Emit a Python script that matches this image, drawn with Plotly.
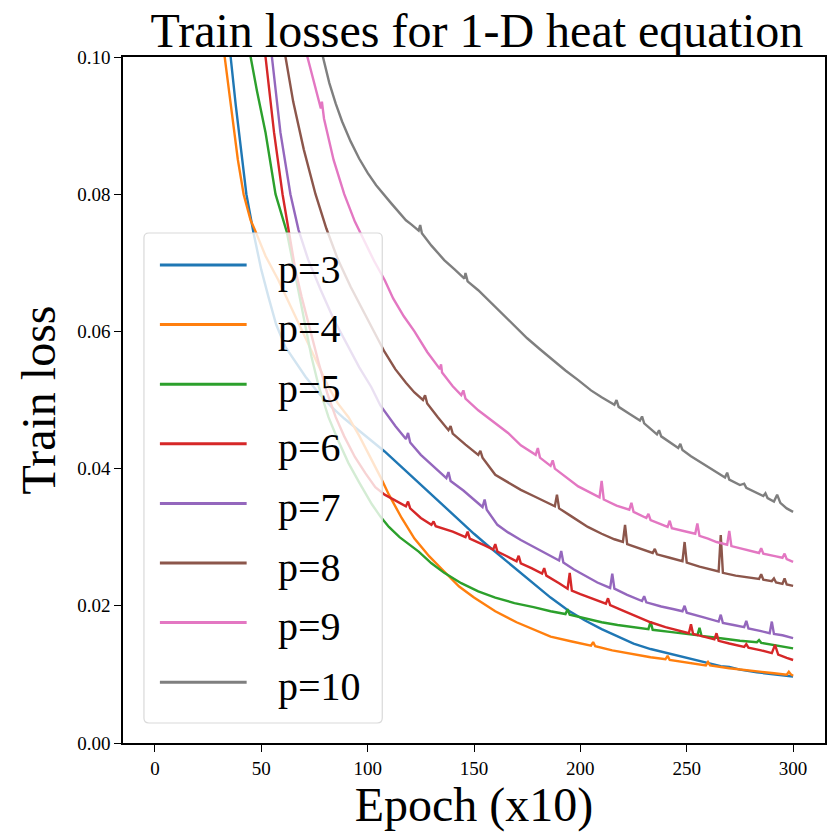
import plotly.graph_objects as go

names = ["p=3", "p=4", "p=5", "p=6", "p=7", "p=8", "p=9", "p=10"]
colors = ["#1f77b4", "#ff7f0e", "#2ca02c", "#d62728", "#9467bd", "#8c564b", "#e377c2", "#7f7f7f"]

x_p3 = [0, 30, 33, 35.6, 38, 41, 43, 46.4, 50, 53.4, 57, 61.4, 66, 70.8, 77, 83, 89, 95.6, 101, 108, 115, 122, 130, 137, 142.5, 150, 156, 163, 170, 178, 186, 194, 202, 210, 217.5, 225, 233, 242, 250, 258, 266, 270, 275, 283, 291, 300]
y_p3 = [0.5, 0.125, 0.111, 0.100, 0.093, 0.085, 0.080, 0.0743, 0.069, 0.065, 0.061, 0.0577, 0.0555, 0.0534, 0.051, 0.049, 0.0473, 0.0456, 0.0442, 0.0425, 0.0405, 0.0385, 0.0362, 0.0341, 0.0325, 0.0305, 0.0289, 0.0271, 0.0253, 0.0233, 0.0212, 0.0194, 0.0179, 0.0166, 0.0155, 0.0145, 0.0137, 0.0130, 0.0124, 0.0118, 0.0112, 0.0111, 0.0107, 0.0103, 0.0100, 0.0097]

x_p4 = [0, 29, 32.8, 36, 39, 41.7, 45, 47, 52, 58, 64, 70.8, 76, 81.6, 86, 91, 96, 101.7, 106, 110, 116, 122, 129, 136, 143, 150, 160, 170, 178, 186, 196, 205, 206, 207, 215, 225, 233, 240, 241, 242, 250, 259, 260, 261, 270, 280, 290, 297, 298, 299, 300]
y_p4 = [0.5, 0.118, 0.100, 0.092, 0.085, 0.080, 0.0762, 0.0748, 0.071, 0.0675, 0.0635, 0.0592, 0.0555, 0.0519, 0.0495, 0.0475, 0.0448, 0.0415, 0.0388, 0.0362, 0.0328, 0.0298, 0.0272, 0.0250, 0.0228, 0.0212, 0.0192, 0.0176, 0.0165, 0.0155, 0.0148, 0.0142, 0.0147, 0.0141, 0.0135, 0.0129, 0.0125, 0.0122, 0.0127, 0.0121, 0.0117, 0.0113, 0.0118, 0.0113, 0.0109, 0.0105, 0.0102, 0.00995, 0.0104, 0.0100, 0.0098]

x_p5 = [0, 42, 45, 48, 52, 56.7, 62, 67, 73.6, 77, 81.6, 86, 91, 96, 102, 106, 110, 115, 124, 130, 136, 144, 152, 160, 169, 178, 186, 193, 194, 195, 202, 210, 217.5, 225, 232, 233, 234, 242, 250, 255, 256, 257, 265, 275, 283, 284, 285, 292, 300]
y_p5 = [0.5, 0.112, 0.100, 0.095, 0.089, 0.080, 0.0745, 0.0665, 0.0563, 0.052, 0.0475, 0.0442, 0.0408, 0.038, 0.0348, 0.033, 0.0315, 0.0300, 0.0279, 0.0262, 0.0248, 0.0233, 0.0221, 0.0212, 0.0204, 0.0198, 0.0192, 0.0188, 0.0195, 0.0187, 0.0182, 0.0176, 0.0172, 0.0169, 0.0166, 0.0177, 0.0165, 0.0162, 0.0159, 0.0157, 0.0168, 0.0156, 0.0153, 0.0149, 0.0147, 0.0150, 0.0146, 0.0142, 0.0138]

x_p6 = [0, 49, 52, 56, 60, 62.8, 66, 69, 73, 77, 81, 85, 89, 94, 99, 103.6, 108, 112, 118, 119, 120, 125, 130, 131, 132, 140, 146, 147, 148, 155, 159, 160, 161, 165, 170, 171, 172, 177, 182, 183, 184, 190, 194, 195, 196, 200, 207, 212, 213, 214, 220, 227, 233, 240, 246, 251, 252, 253, 258, 263, 264, 265, 270, 277, 278, 279, 285, 290, 291.5, 293, 297, 300]
y_p6 = [0.5, 0.112, 0.100, 0.089, 0.080, 0.0748, 0.069, 0.065, 0.060, 0.0554, 0.051, 0.0475, 0.0447, 0.0417, 0.0393, 0.0373, 0.0362, 0.0355, 0.0345, 0.0352, 0.0342, 0.0328, 0.0318, 0.0323, 0.0316, 0.0308, 0.0300, 0.0308, 0.0298, 0.0288, 0.0282, 0.0290, 0.0279, 0.0273, 0.0265, 0.0273, 0.0262, 0.0255, 0.0247, 0.0255, 0.0244, 0.0233, 0.0225, 0.0248, 0.0222, 0.0217, 0.0209, 0.0203, 0.0211, 0.0201, 0.0193, 0.0184, 0.0176, 0.0169, 0.0164, 0.0160, 0.0173, 0.0159, 0.0155, 0.0151, 0.0160, 0.0149, 0.0145, 0.0140, 0.0144, 0.0139, 0.0135, 0.0131, 0.0143, 0.0129, 0.0124, 0.0121]

x_p7 = [0, 52, 55, 59, 63.7, 67.5, 72, 78, 84, 91, 96, 101.7, 106, 113, 118, 119, 120, 125, 131, 137, 138, 139, 145, 150, 154, 155, 156, 161, 166, 172, 178.6, 185, 190, 191, 192, 197, 202.5, 208, 214, 215, 216, 222, 229, 230, 231, 238, 244, 248, 249, 250, 258, 265, 266, 267, 272, 277, 278, 279, 285, 289, 290, 291, 295, 300]
y_p7 = [0.5, 0.112, 0.100, 0.089, 0.080, 0.0748, 0.0705, 0.066, 0.0618, 0.0577, 0.0548, 0.0519, 0.0492, 0.0462, 0.0443, 0.0452, 0.0438, 0.0420, 0.0403, 0.0386, 0.0395, 0.0382, 0.0368, 0.0355, 0.0344, 0.0355, 0.0340, 0.0318, 0.0307, 0.0296, 0.0285, 0.0274, 0.0266, 0.0280, 0.0263, 0.0253, 0.0243, 0.0234, 0.0226, 0.0247, 0.0225, 0.0216, 0.0207, 0.0214, 0.0205, 0.0199, 0.0195, 0.0192, 0.0200, 0.0190, 0.0183, 0.0177, 0.0187, 0.0175, 0.0172, 0.0169, 0.0178, 0.0167, 0.0163, 0.0160, 0.0177, 0.0159, 0.0157, 0.0153]

x_p8 = [0, 58, 61.4, 65, 70, 75.5, 80.6, 86, 92, 97, 101.7, 105, 108, 113, 118, 122, 126, 127, 128, 133, 138, 139, 140, 146, 152, 153, 154, 160, 166, 172, 178, 184, 188, 189, 190, 196, 203.5, 210, 216, 220, 221, 222, 228, 234, 235, 236, 242, 248, 249, 250, 256, 262, 265, 266, 267, 273, 279, 284, 285, 286, 290, 291, 292, 295, 296, 297, 300]
y_p8 = [0.5, 0.112, 0.100, 0.0935, 0.0865, 0.0800, 0.0750, 0.0705, 0.0665, 0.0635, 0.0608, 0.0588, 0.0570, 0.0545, 0.0525, 0.0511, 0.0500, 0.0507, 0.0495, 0.0475, 0.0456, 0.0462, 0.0451, 0.0435, 0.0420, 0.0426, 0.0416, 0.0391, 0.0380, 0.0369, 0.0360, 0.0351, 0.0345, 0.0362, 0.0342, 0.0330, 0.0315, 0.0305, 0.0297, 0.0293, 0.0318, 0.0290, 0.0283, 0.0277, 0.0283, 0.0275, 0.0270, 0.0265, 0.0293, 0.0263, 0.0257, 0.0252, 0.0250, 0.0303, 0.0248, 0.0244, 0.0241, 0.0239, 0.0246, 0.0238, 0.0236, 0.0240, 0.0234, 0.0232, 0.0240, 0.0231, 0.0229]

x_p9 = [0, 68, 71.7, 75, 78, 78.5, 79.5, 84, 89, 94, 99, 103, 108, 112, 117, 122, 128, 134, 134.5, 135, 140, 144, 145, 146, 152, 160, 166, 172, 179, 180, 181, 186, 187, 188, 193, 199, 204, 209, 210, 211, 217, 223, 224, 225, 231, 232, 233, 238, 241, 242, 243, 250, 254, 255, 256, 260, 264, 269, 270, 271, 278, 284, 285, 286, 292, 295, 296, 297, 300]
y_p9 = [0.5, 0.113, 0.100, 0.096, 0.0925, 0.0935, 0.091, 0.085, 0.080, 0.076, 0.0728, 0.0703, 0.0675, 0.0648, 0.0622, 0.0600, 0.0570, 0.0545, 0.0552, 0.0540, 0.0520, 0.0507, 0.0514, 0.0502, 0.0485, 0.0466, 0.0452, 0.0434, 0.0420, 0.0430, 0.0416, 0.0404, 0.0412, 0.0400, 0.0388, 0.0374, 0.0366, 0.0358, 0.0382, 0.0355, 0.0346, 0.0340, 0.0350, 0.0337, 0.0328, 0.0334, 0.0325, 0.0319, 0.0315, 0.0324, 0.0313, 0.0308, 0.0305, 0.0320, 0.0302, 0.0298, 0.0293, 0.0289, 0.0309, 0.0287, 0.0281, 0.0277, 0.0284, 0.0276, 0.0272, 0.0270, 0.0276, 0.0268, 0.0264]

x_p10 = [0, 75, 79, 82, 85, 88, 92, 96, 100, 104, 111, 118, 120.5, 124, 124.7, 125.5, 130, 136, 141, 145.5, 146, 147, 152, 156.6, 163, 169, 175, 181, 187, 193, 199, 205, 210, 216, 217, 218, 223, 228, 229, 230, 236, 237, 238, 243, 246, 247, 248, 252, 256, 262, 268, 269, 270, 275, 277, 278, 283, 286, 287, 288, 291, 292.5, 294, 297, 300]
y_p10 = [0.5, 0.113, 0.100, 0.0962, 0.0932, 0.0906, 0.0877, 0.0852, 0.0831, 0.0813, 0.0787, 0.0762, 0.0756, 0.0747, 0.0755, 0.0743, 0.0725, 0.0704, 0.0690, 0.0677, 0.0685, 0.0673, 0.0660, 0.0646, 0.0626, 0.0608, 0.0590, 0.0574, 0.0558, 0.0543, 0.0529, 0.0514, 0.0504, 0.0493, 0.0500, 0.0490, 0.0480, 0.0470, 0.0476, 0.0466, 0.0450, 0.0456, 0.0447, 0.0436, 0.0430, 0.0436, 0.0427, 0.0418, 0.0410, 0.0399, 0.0387, 0.0394, 0.0384, 0.0376, 0.0378, 0.0372, 0.0364, 0.0360, 0.0364, 0.0357, 0.0352, 0.0362, 0.0350, 0.0342, 0.0337]

xs = [x_p3, x_p4, x_p5, x_p6, x_p7, x_p8, x_p9, x_p10]
ys = [y_p3, y_p4, y_p5, y_p6, y_p7, y_p8, y_p9, y_p10]

x_ticks = [0, 50, 100, 150, 200, 250, 300]
y_ticks = [0.00, 0.02, 0.04, 0.06, 0.08, 0.10]

FONT = "Liberation Serif, Times New Roman, serif"

# plot-area geometry in pixels (for placing the in-axes legend box)
W, H = 828, 832
ML, MR, MT, MB = 123, 1, 57, 89
PW, PH = W - ML - MR, H - MT - MB


def px(xp):
    return (xp - ML) / PW


def py(yp):
    return (H - MB - yp) / PH


fig = go.Figure()
for i in range(len(names)):
    fig.add_trace(go.Scatter(
        x=xs[i], y=ys[i], mode="lines", name=names[i],
        line=dict(color=colors[i], width=2.4), showlegend=False,
    ))

# legend (matplotlib-style, inside the axes, semi-transparent, rounded)
shapes = []
annotations = []
bx0, bx1, by0, by1, r = 144, 383, 233, 723, 5
rx, ry = r / PW, r / PH
X0, X1, Y0, Y1 = px(bx0), px(bx1), py(by1), py(by0)
path = (f"M{X0+rx},{Y1} L{X1-rx},{Y1} Q{X1},{Y1} {X1},{Y1-ry} L{X1},{Y0+ry} Q{X1},{Y0} {X1-rx},{Y0} "
        f"L{X0+rx},{Y0} Q{X0},{Y0} {X0},{Y0+ry} L{X0},{Y1-ry} Q{X0},{Y1} {X0+rx},{Y1} Z")
shapes.append(dict(type="path", xref="paper", yref="paper", path=path,
                   fillcolor="rgba(255,255,255,0.8)", line=dict(color="#d9d9d9", width=1.2),
                   layer="above"))
row0, step = 265, 59.6
for i, nm in enumerate(names):
    ry_px = row0 + step * i
    shapes.append(dict(type="line", xref="paper", yref="paper",
                       x0=px(160), x1=px(247), y0=py(ry_px), y1=py(ry_px),
                       line=dict(color=colors[i], width=3), layer="above"))
    annotations.append(dict(text=nm, xref="paper", yref="paper", x=px(276), y=py(ry_px + 4),
                            xanchor="left", yanchor="middle", showarrow=False,
                            font=dict(size=40, family=FONT, color="black")))

fig.update_layout(
    width=W, height=H,
    margin=dict(l=ML, r=MR, t=MT, b=MB),
    paper_bgcolor="white", plot_bgcolor="white",
    font=dict(family=FONT, color="black"),
    title=dict(text="Train losses for 1-D heat equation", x=0.576, xanchor="center",
               y=0.964, yanchor="middle", font=dict(size=48, family=FONT, color="black")),
    showlegend=False,
    shapes=shapes,
    annotations=annotations,
)
fig.update_xaxes(range=[-15, 315], tickvals=x_ticks, ticks="outside", ticklen=7, tickwidth=1.3,
                 tickcolor="black", showline=True, linecolor="black", linewidth=1.5, mirror=True,
                 showgrid=False, zeroline=False, tickfont=dict(size=19, family=FONT),
                 title=dict(text="Epoch (x10)", font=dict(size=48, family=FONT), standoff=0))
fig.update_yaxes(range=[0, 0.1], tickvals=y_ticks, tickformat=".2f", ticks="outside", ticklen=7,
                 tickwidth=1.3, tickcolor="black", showline=True, linecolor="black", linewidth=1.5,
                 mirror=True, showgrid=False, zeroline=False, tickfont=dict(size=19, family=FONT),
                 title=dict(text="Train loss", font=dict(size=48, family=FONT), standoff=6))

fig.write_html("out.html")
